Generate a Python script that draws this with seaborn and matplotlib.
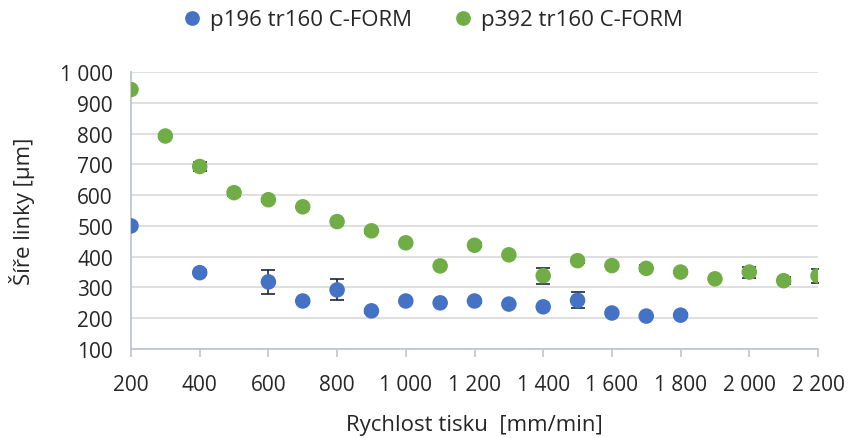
import numpy as np
import pandas as pd
import matplotlib
matplotlib.use("Agg")
import matplotlib.pyplot as plt
import seaborn as sns

speed_blue = [200, 400, 600, 700, 800, 900, 1000, 1100, 1200, 1300, 1400, 1500, 1600, 1700, 1800]
width_blue = [500, 348, 318, 256, 292, 224, 256, 250, 256, 246, 237, 258, 217, 207, 210]
err_blue = [8, 8, 39, 6, 34, 6, 6, 6, 6, 6, 6, 26, 6, 6, 6]

speed_green = [200, 300, 400, 500, 600, 700, 800, 900, 1000, 1100, 1200, 1300, 1400, 1500,
               1600, 1700, 1800, 1900, 2000, 2100, 2200]
width_green = [943, 792, 693, 608, 585, 562, 514, 484, 445, 370, 437, 406, 338, 387,
               371, 362, 350, 328, 350, 322, 338]
err_green = [6, 6, 14, 10, 6, 6, 6, 6, 6, 6, 6, 6, 26, 6, 8, 10, 6, 6, 18, 12, 22]

label_blue = "p196 tr160 C-FORM"
label_green = "p392 tr160 C-FORM"
xticks = list(range(200, 2201, 200))
yticks = list(range(100, 1001, 100))

def fmt(v):
    return f"{v:,}".replace(",", " ")

df = pd.concat([
    pd.DataFrame({"x": speed_blue, "y": width_blue, "e": err_blue, "s": label_blue}),
    pd.DataFrame({"x": speed_green, "y": width_green, "e": err_green, "s": label_green}),
])

sns.set_theme(style="white")
plt.rcParams["font.family"] = ["Open Sans", "DejaVu Sans"]

fig = plt.figure(figsize=(8.5, 4.39), dpi=100)
ax = fig.add_axes([131/850, 1-350/439, (818-131)/850, (350-73)/439])

colors = {label_blue: "#4472C4", label_green: "#70AD47"}
for lab, sub in df.groupby("s"):
    ax.errorbar(sub["x"], sub["y"], yerr=sub["e"], fmt="none", ecolor="#1e2838",
                elinewidth=1.2, capsize=5, capthick=1.2, zorder=2)
sns.scatterplot(data=df, x="x", y="y", hue="s", palette=colors, s=125,
                edgecolor="none", ax=ax, zorder=3, legend=True,
                hue_order=[label_blue, label_green])

ax.set_xlim(200, 2200)
ax.set_ylim(100, 1000)
ax.set_xticks(xticks)
ax.set_xticklabels([fmt(v) for v in xticks])
ax.set_yticks(yticks)
ax.set_yticklabels([fmt(v) for v in yticks])
ax.yaxis.grid(True, color="#d9d9d9", linewidth=1.2)
ax.set_axisbelow(True)
for sp in ["top", "right"]:
    ax.spines[sp].set_visible(False)
for sp in ["left", "bottom"]:
    ax.spines[sp].set_color("#bfc6d2")
    ax.spines[sp].set_linewidth(1.3)
ax.tick_params(axis="x", direction="out", length=6, width=1.2, color="#bfc6d2",
               labelsize=15, labelcolor="#262626", pad=12, bottom=True)
ax.tick_params(axis="y", length=0, labelsize=15, labelcolor="#262626", pad=13)
ax.set_xlabel("Rychlost tisku  [mm/min]", fontsize=16, color="#262626", labelpad=14)
ax.set_ylabel("Šíře linky [µm]", fontsize=16, color="#262626", labelpad=18)

h, l = ax.get_legend_handles_labels()
leg = ax.legend(h, l, loc="center", bbox_to_anchor=(0.5 - (131 + 687/2 - 432)/687, 1 + (73 - 21)/277),
                ncol=2, frameon=False, fontsize=16, handletextpad=0.3, columnspacing=1.8,
                markerscale=0.95, labelcolor="#262626", handlelength=1.0)

fig.savefig("out.png", dpi=100)
